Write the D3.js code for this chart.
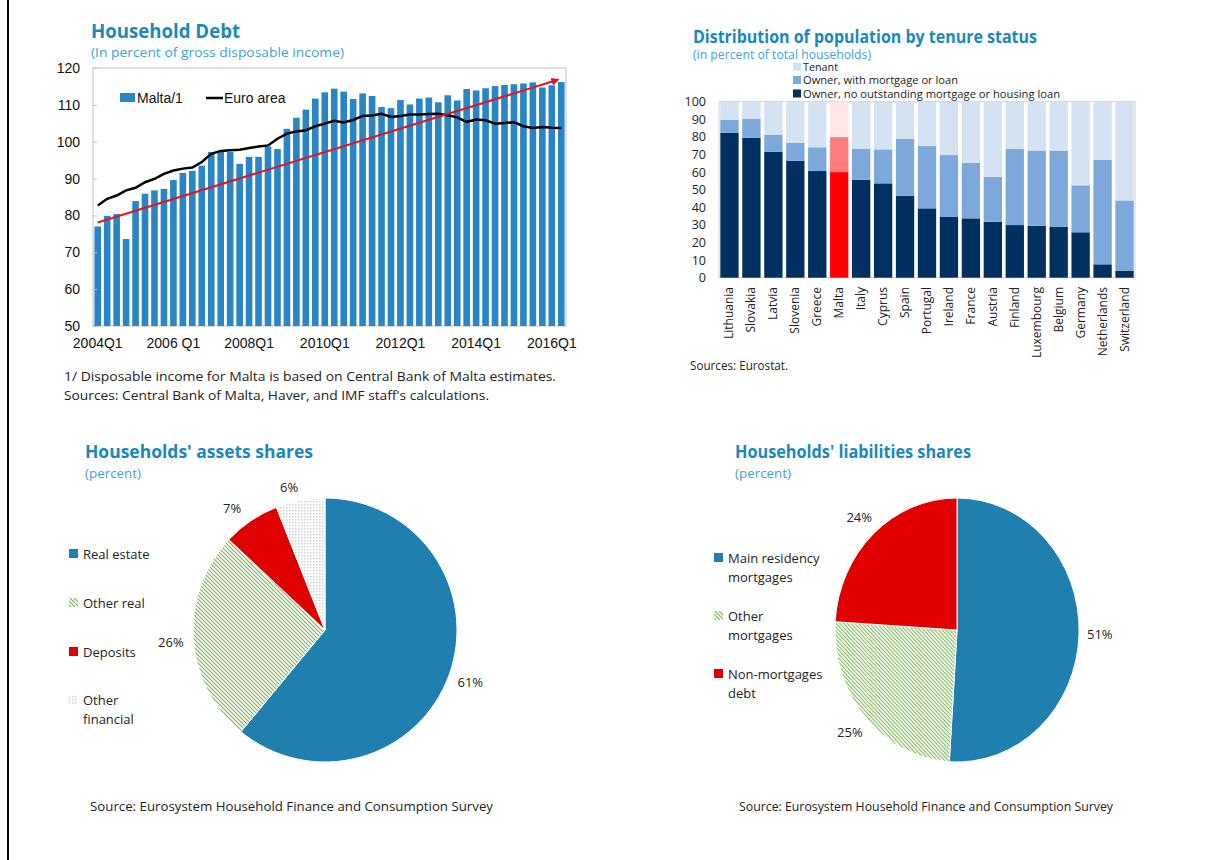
<!DOCTYPE html>
<html>
<head>
<meta charset="utf-8">
<script src="https://cdn.jsdelivr.net/npm/d3@7"></script>
<style>
  body { margin: 0; background: #fff; }
  text { font-family: "Open Sans", sans-serif; fill: #222; }
  .arial { font-family: "Liberation Sans", Arial, sans-serif; }
</style>
</head>
<body>
<div id="chart"></div>
<script>
// ---------- data ----------
// Household debt, quarterly 2004Q1 .. 2016Q2
var quarters = [];
for (var yr = 2004; yr <= 2016; yr++) {
    for (var q = 1; q <= 4; q++) { quarters.push(yr + "Q" + q); }
}
quarters = quarters.slice(0, 50);
var maltaDebt = [77.0, 79.9, 80.4, 73.6, 83.9, 85.9, 86.8, 87.2, 89.6, 91.5,
                 92.1, 93.5, 97.2, 97.2, 97.2, 94.0, 95.9, 95.9, 98.7, 98.0,
                 103.5, 106.5, 108.7, 111.7, 113.4, 114.4, 113.6, 111.6, 113.1, 112.4,
                 109.4, 109.1, 111.3, 110.1, 111.7, 112.0, 110.7, 112.6, 111.2, 114.3,
                 113.9, 114.5, 115.1, 115.4, 115.6, 115.8, 116.1, 114.7, 115.3, 116.2];
var euroDebt = [82.7, 84.5, 85.4, 86.8, 87.5, 89.0, 89.9, 91.3, 92.2, 92.7,
                93.0, 94.5, 96.7, 97.5, 97.7, 97.8, 98.3, 98.7, 99.0, 100.8,
                102.2, 102.8, 103.1, 104.2, 104.9, 105.7, 105.2, 105.9, 107.0, 107.1,
                107.6, 106.7, 107.0, 107.4, 107.4, 107.5, 107.6, 107.2, 106.6, 105.4,
                106.0, 105.8, 104.9, 105.1, 105.3, 104.2, 103.7, 104.0, 103.8, 103.7];
var trendIdx = [0, 49];          // red arrow start / end quarter
var trendVal = [78.1, 116.8];
var debtTickIdx = [0, 8, 16, 24, 32, 40, 48];
var debtTickLabels = ["2004Q1", "2006 Q1", "2008Q1", "2010Q1", "2012Q1", "2014Q1", "2016Q1"];
var debtYTicks = [50, 60, 70, 80, 90, 100, 110, 120];

// Tenure status
var countries = ["Lithuania", "Slovakia", "Latvia", "Slovenia", "Greece", "Malta", "Italy", "Cyprus",
                 "Spain", "Portugal", "Ireland", "France", "Austria", "Finland", "Luxembourg",
                 "Belgium", "Germany", "Netherlands", "Switzerland"];
var ownerOutright = [82.4, 79.5, 71.6, 66.5, 60.6, 60.0, 55.7, 53.6, 46.6, 39.4,
                     34.5, 33.7, 31.8, 29.9, 29.5, 29.0, 25.8, 7.6, 4.0];
var ownerMortgage = [7.4, 10.7, 9.5, 10.2, 13.5, 19.9, 17.6, 19.3, 32.4, 35.4,
                     35.2, 31.5, 25.4, 43.2, 42.8, 43.0, 26.7, 59.3, 39.9];
var tenant = [10.2, 9.8, 18.9, 23.3, 25.9, 20.1, 26.7, 27.1, 21.0, 25.2,
              30.3, 34.8, 42.8, 26.9, 27.7, 28.0, 47.5, 33.1, 56.1];
var tenureKeys = ["outright", "mortgage", "tenant"];
var tenureLegend = ["Tenant", "Owner, with mortgage or loan", "Owner, no outstanding mortgage or housing loan"];
var tenureYTicks = [0, 10, 20, 30, 40, 50, 60, 70, 80, 90, 100];

// Pies
var assetLabels = ["Real estate", "Other real", "Deposits", "Other financial"];
var assetLegend = [["Real estate"], ["Other real"], ["Deposits"], ["Other", "financial"]];
var assetShares = [61, 26, 7, 6];
var liabLabels = ["Main residency mortgages", "Other mortgages", "Non-mortgages debt"];
var liabLegend = [["Main residency", "mortgages"], ["Other", "mortgages"], ["Non-mortgages", "debt"]];
var liabShares = [51, 25, 24];

// ---------- page ----------
var W = 1205, H = 860;
var titleBlue = "#1A88BE", subBlue = "#3EA3D6";

var svg = d3.select("#chart").append("svg")
    .attr("width", W).attr("height", H);

// patterns for hatched / dotted slices
var defs = svg.append("defs");
var hatch = defs.append("pattern").attr("id", "hatch")
    .attr("patternUnits", "userSpaceOnUse").attr("width", 4).attr("height", 4);
hatch.append("rect").attr("width", 4).attr("height", 4).attr("fill", "#fff");
hatch.append("path").attr("d", "M-1,-1 L5,5 M3,-1 L5,1 M-1,3 L1,5")
    .attr("stroke", "#7DB35A").attr("stroke-width", 1.2);
var dots = defs.append("pattern").attr("id", "dots")
    .attr("patternUnits", "userSpaceOnUse").attr("width", 3).attr("height", 3);
dots.append("rect").attr("width", 3).attr("height", 3).attr("fill", "#fff");
dots.append("rect").attr("width", 1.5).attr("height", 1.5).attr("fill", "#D3D3D3");
defs.append("marker").attr("id", "arrow")
    .attr("viewBox", "0 0 10 10").attr("refX", 8).attr("refY", 5)
    .attr("markerWidth", 4).attr("markerHeight", 4).attr("orient", "auto")
    .append("path").attr("d", "M0,0 L10,5 L0,10 z").attr("fill", "#E3151B");

// left page border
svg.append("line").attr("x1", 8).attr("x2", 8).attr("y1", 0).attr("y2", H)
    .attr("stroke", "#000").attr("stroke-width", 2);

// helper for text squeezed to a given width
function addText(x, y, str, size, color, width, weight) {
    var t = svg.append("text").attr("x", x).attr("y", y)
        .style("font-size", size + "px").style("fill", color)
        .style("font-weight", weight || 400).text(str);
    if (width) t.attr("textLength", width).attr("lengthAdjust", "spacingAndGlyphs");
    return t;
}

// ================= Household Debt =================
var d1 = { x0: 93, x1: 566, y0: 68, y1: 326 };
addText(91, 38, "Household Debt", 19, titleBlue, 149, 700);
addText(91, 57, "(In percent of gross disposable income)", 13, subBlue, 253);

var xDebt = d3.scaleBand().domain(d3.range(quarters.length))
    .range([d1.x0, d1.x1]).paddingInner(0.3).paddingOuter(0.15);
var yDebt = d3.scaleLinear().domain([50, 120]).range([d1.y1, d1.y0]);

svg.append("rect").attr("x", d1.x0).attr("y", d1.y0)
    .attr("width", d1.x1 - d1.x0).attr("height", d1.y1 - d1.y0)
    .attr("fill", "none").attr("stroke", "#BFBFBF");

svg.append("g").selectAll("rect").data(maltaDebt).enter().append("rect")
    .attr("x", function(d, i) { return xDebt(i); })
    .attr("y", function(d) { return yDebt(d); })
    .attr("width", xDebt.bandwidth())
    .attr("height", function(d) { return yDebt(50) - yDebt(d); })
    .attr("fill", "#2A85C6");

var euroLine = d3.line()
    .x(function(d, i) { return xDebt(i) + xDebt.bandwidth() / 2; })
    .y(function(d) { return yDebt(d); });
svg.append("path").datum(euroDebt).attr("d", euroLine)
    .attr("fill", "none").attr("stroke", "#000").attr("stroke-width", 2.5);

svg.append("line")
    .attr("x1", xDebt(trendIdx[0]) + xDebt.bandwidth() / 2).attr("y1", yDebt(trendVal[0]))
    .attr("x2", xDebt(trendIdx[1])).attr("y2", yDebt(trendVal[1]))
    .attr("stroke", "#E3151B").attr("stroke-width", 2).attr("marker-end", "url(#arrow)");

// y axis (ticks inside)
var yAx1 = svg.append("g").attr("transform", "translate(" + d1.x0 + ",0)")
    .call(d3.axisLeft(yDebt).tickValues(debtYTicks).tickSize(-4).tickPadding(13));
yAx1.select(".domain").remove();
yAx1.selectAll("line").attr("stroke", "#BFBFBF");
yAx1.selectAll("text").attr("class", "arial").style("font-size", "14px").style("fill", "#111");

// x labels
svg.append("g").selectAll("text").data(debtTickIdx).enter().append("text")
    .attr("class", "arial")
    .attr("x", function(d) { return xDebt(d) + xDebt.bandwidth() / 2; })
    .attr("y", 348).attr("text-anchor", "middle")
    .style("font-size", "14px").style("fill", "#111")
    .text(function(d, i) { return debtTickLabels[i]; });

// legend
svg.append("rect").attr("x", 120).attr("y", 93).attr("width", 15).attr("height", 9).attr("fill", "#2A85C6");
addText(137, 103, "Malta/1", 14, "#111").attr("class", "arial");
svg.append("line").attr("x1", 206).attr("x2", 223).attr("y1", 98).attr("y2", 98)
    .attr("stroke", "#000").attr("stroke-width", 2.5);
addText(224, 103, "Euro area", 14, "#111").attr("class", "arial");

addText(64, 381, "1/ Disposable income for Malta is based on Central Bank of Malta estimates.", 13, "#222", 492);
addText(64, 400, "Sources: Central Bank of Malta, Haver, and IMF staff's calculations.", 13, "#222", 425);

// ================= Tenure status =================
var d2 = { x0: 719, x1: 1135, y0: 101.7, y1: 277.7 };
addText(693, 43, "Distribution of population by tenure status", 18, titleBlue, 344, 700);
addText(693, 59, "(in percent of total households)", 12, subBlue, 178);

var tenureRows = countries.map(function(c, i) {
    return { country: c, outright: ownerOutright[i], mortgage: ownerMortgage[i], tenant: tenant[i] };
});
var stack = d3.stack().keys(tenureKeys)(tenureRows);

var xTen = d3.scaleBand().domain(countries).range([d2.x0, d2.x1])
    .paddingInner(0.165).paddingOuter(0.06);
var yTen = d3.scaleLinear().domain([0, 100]).range([d2.y1, d2.y0]);

var tenColors = { outright: "#00305F", mortgage: "#7CA8DC", tenant: "#D5E2F2" };
var maltaColors = { outright: "#FF0000", mortgage: "#FF7C7C", tenant: "#FDE8E6" };

svg.append("rect").attr("x", d2.x0).attr("y", d2.y0)
    .attr("width", d2.x1 - d2.x0).attr("height", d2.y1 - d2.y0)
    .attr("fill", "none").attr("stroke", "#D0D0D0");

svg.append("g").selectAll("g").data(stack).enter().append("g")
    .selectAll("rect").data(function(s) { return s.map(function(p) { p.key = s.key; return p; }); })
    .enter().append("rect")
    .attr("x", function(p) { return xTen(p.data.country); })
    .attr("y", function(p) { return yTen(p[1]); })
    .attr("width", xTen.bandwidth())
    .attr("height", function(p) { return yTen(p[0]) - yTen(p[1]); })
    .attr("fill", function(p) {
        return p.data.country === "Malta" ? maltaColors[p.key] : tenColors[p.key];
    });

var yAx2 = svg.append("g").attr("transform", "translate(" + d2.x0 + ",0)")
    .call(d3.axisLeft(yTen).tickValues(tenureYTicks).tickSize(0).tickPadding(13));
yAx2.select(".domain").remove();
yAx2.selectAll("text").style("font-size", "12.5px").style("fill", "#222");

svg.append("g").selectAll("text").data(countries).enter().append("text")
    .attr("transform", function(c) {
        return "translate(" + (xTen(c) + xTen.bandwidth() / 2 + 4) + ",287) rotate(-90)";
    })
    .attr("text-anchor", "end")
    .style("font-size", "12px").style("fill", "#222")
    .text(function(c) { return c; });

var legColors = [tenColors.tenant, tenColors.mortgage, tenColors.outright];
var legY = [66.5, 80, 93.5];
var legW = [35, 155, 257];
tenureLegend.forEach(function(l, i) {
    svg.append("rect").attr("x", 793).attr("y", legY[i] - 4).attr("width", 8).attr("height", 8)
        .attr("fill", legColors[i]);
    addText(803, legY[i] + 4, l, 11.5, "#222", legW[i]);
});

addText(690, 370, "Sources: Eurostat.", 12, "#222", 98);

// ================= Pies =================
function drawPie(opt) {
    addText(opt.tx, 458, opt.title, 17, titleBlue, opt.titleW, 700);
    addText(opt.tx, 478, "(percent)", 12.5, subBlue, 56);

    var arcs = d3.pie().sort(null)(opt.values);
    var arc = d3.arc().innerRadius(0).outerRadius(opt.r);
    var labelArc = d3.arc().innerRadius(opt.r * 1.17).outerRadius(opt.r * 1.17);

    var g = svg.append("g")
        .attr("transform", "translate(" + opt.cx + "," + opt.cy + ") scale(" + opt.sx + ",1)");
    g.selectAll("path").data(arcs).enter().append("path")
        .attr("d", arc)
        .attr("fill", function(d, i) { return opt.fills[i]; })
        .attr("stroke", "#fff").attr("stroke-width", 1);

    svg.append("g").attr("transform", "translate(" + opt.cx + "," + opt.cy + ")")
        .selectAll("text").data(arcs).enter().append("text")
        .attr("x", function(d) { return labelArc.centroid(d)[0] * opt.sx + (opt.ldx ? opt.ldx[d.index] : 0); })
        .attr("y", function(d) { return labelArc.centroid(d)[1] + (opt.ldy ? opt.ldy[d.index] : 0); })
        .attr("text-anchor", "middle").attr("dy", "0.35em")
        .style("font-size", "13px").style("fill", "#222")
        .text(function(d) { return d.data + "%"; });

    opt.legend.forEach(function(lines, i) {
        var y = opt.legY[i];
        svg.append("rect").attr("x", opt.lx).attr("y", y - 5).attr("width", 9).attr("height", 9)
            .attr("fill", opt.fills[i]);
        lines.forEach(function(s, j) {
            addText(opt.lx + 14, y + 5 + j * 19, s, 13, "#222");
        });
    });

    addText(opt.sx0, 811, "Source: Eurosystem Household Finance and Consumption Survey", 13, "#222", opt.srcW);
}

drawPie({
    title: "Households' assets shares", tx: 85, titleW: 228,
    values: assetShares, fills: ["#1F7FAF", "url(#hatch)", "#E00000", "url(#dots)"],
    cx: 325, cy: 630, r: 132, sx: 1,
    ldx: [0, 0, -6, -7], ldy: [0, 3, 6, 9],
    legend: assetLegend, lx: 69, legY: [554, 603, 652, 700],
    sx0: 90, srcW: 403
});
drawPie({
    title: "Households' liabilities shares", tx: 735, titleW: 236,
    values: liabShares, fills: ["#1F7FAF", "url(#hatch)", "#E00000"],
    cx: 957, cy: 630, r: 132, sx: 0.925,
    legend: liabLegend, lx: 714, legY: [558, 616, 674],
    sx0: 739, srcW: 374
});
</script>
</body>
</html>
